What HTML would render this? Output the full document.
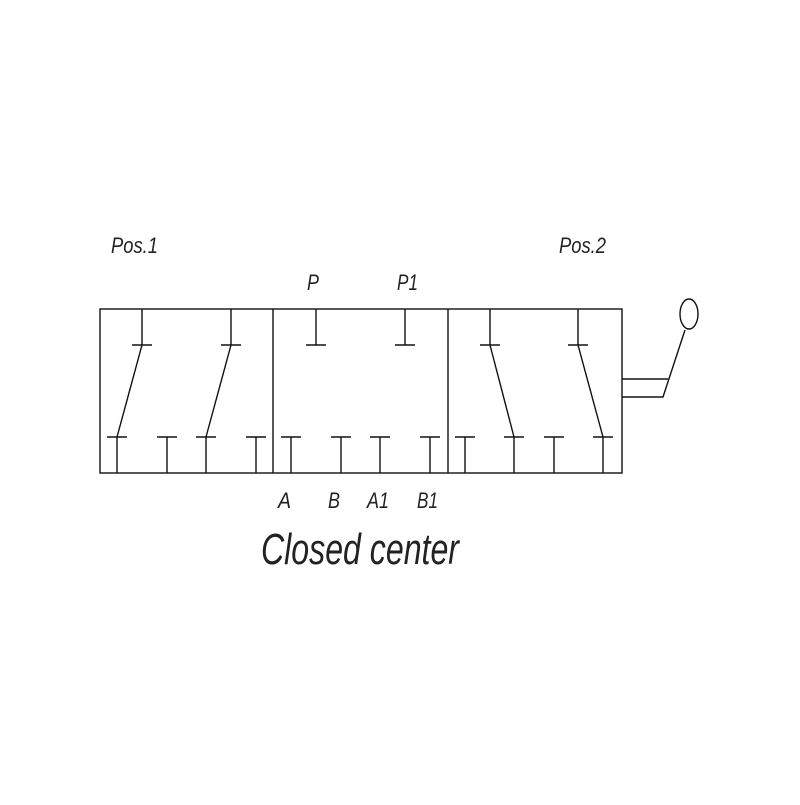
<!DOCTYPE html>
<html><head><meta charset="utf-8"><style>html,body{margin:0;padding:0;background:#fff}</style></head>
<body>
<svg width="800" height="800" viewBox="0 0 800 800" xmlns="http://www.w3.org/2000/svg">
<g stroke="#111" stroke-width="1.4" fill="none">
<rect x="100" y="309" width="522" height="164"/>
<line x1="273" y1="309" x2="273" y2="473"/>
<line x1="448" y1="309" x2="448" y2="473"/>
<!-- top stems -->
<path d="M142 309V345M132 345H152M231 309V345M221 345H241M316 309V345M306 345H326M405 309V345M395 345H415M490 309V345M480 345H500M578 309V345M568 345H588"/>
<!-- bottom Ts -->
<path d="M117 473V437M107 437H127M167 473V437M157 437H177M206 473V437M196 437H216M256 473V437M246 437H266M291 473V437M281 437H301M341 473V437M331 437H351M380 473V437M370 437H390M430 473V437M420 437H440M465 473V437M455 437H475M514 473V437M504 437H524M554 473V437M544 437H564M603 473V437M593 437H613"/>
<!-- diagonals -->
<path d="M142 345L117 437M231 345L206 437M490 345L514 437M578 345L603 437"/>
<!-- handle -->
<path d="M622 379H668M622 397H663L685 330"/>
<ellipse cx="689" cy="314" rx="9" ry="15"/>
</g>
<g font-family="Liberation Sans, sans-serif" font-style="italic" fill="#222" font-size="22">
<text x="111" y="253" textLength="47" lengthAdjust="spacingAndGlyphs">Pos.1</text>
<text x="559" y="253" textLength="47" lengthAdjust="spacingAndGlyphs">Pos.2</text>
<text x="307" y="290" textLength="12" lengthAdjust="spacingAndGlyphs">P</text>
<text x="397" y="290" textLength="21" lengthAdjust="spacingAndGlyphs">P1</text>
<text x="278" y="508" textLength="13" lengthAdjust="spacingAndGlyphs">A</text>
<text x="328" y="508" textLength="12" lengthAdjust="spacingAndGlyphs">B</text>
<text x="367" y="508" textLength="22" lengthAdjust="spacingAndGlyphs">A1</text>
<text x="417" y="508" textLength="21" lengthAdjust="spacingAndGlyphs">B1</text>
<text x="261" y="564" font-size="44" textLength="198" lengthAdjust="spacingAndGlyphs">Closed center</text>
</g>
</svg>
</body></html>
